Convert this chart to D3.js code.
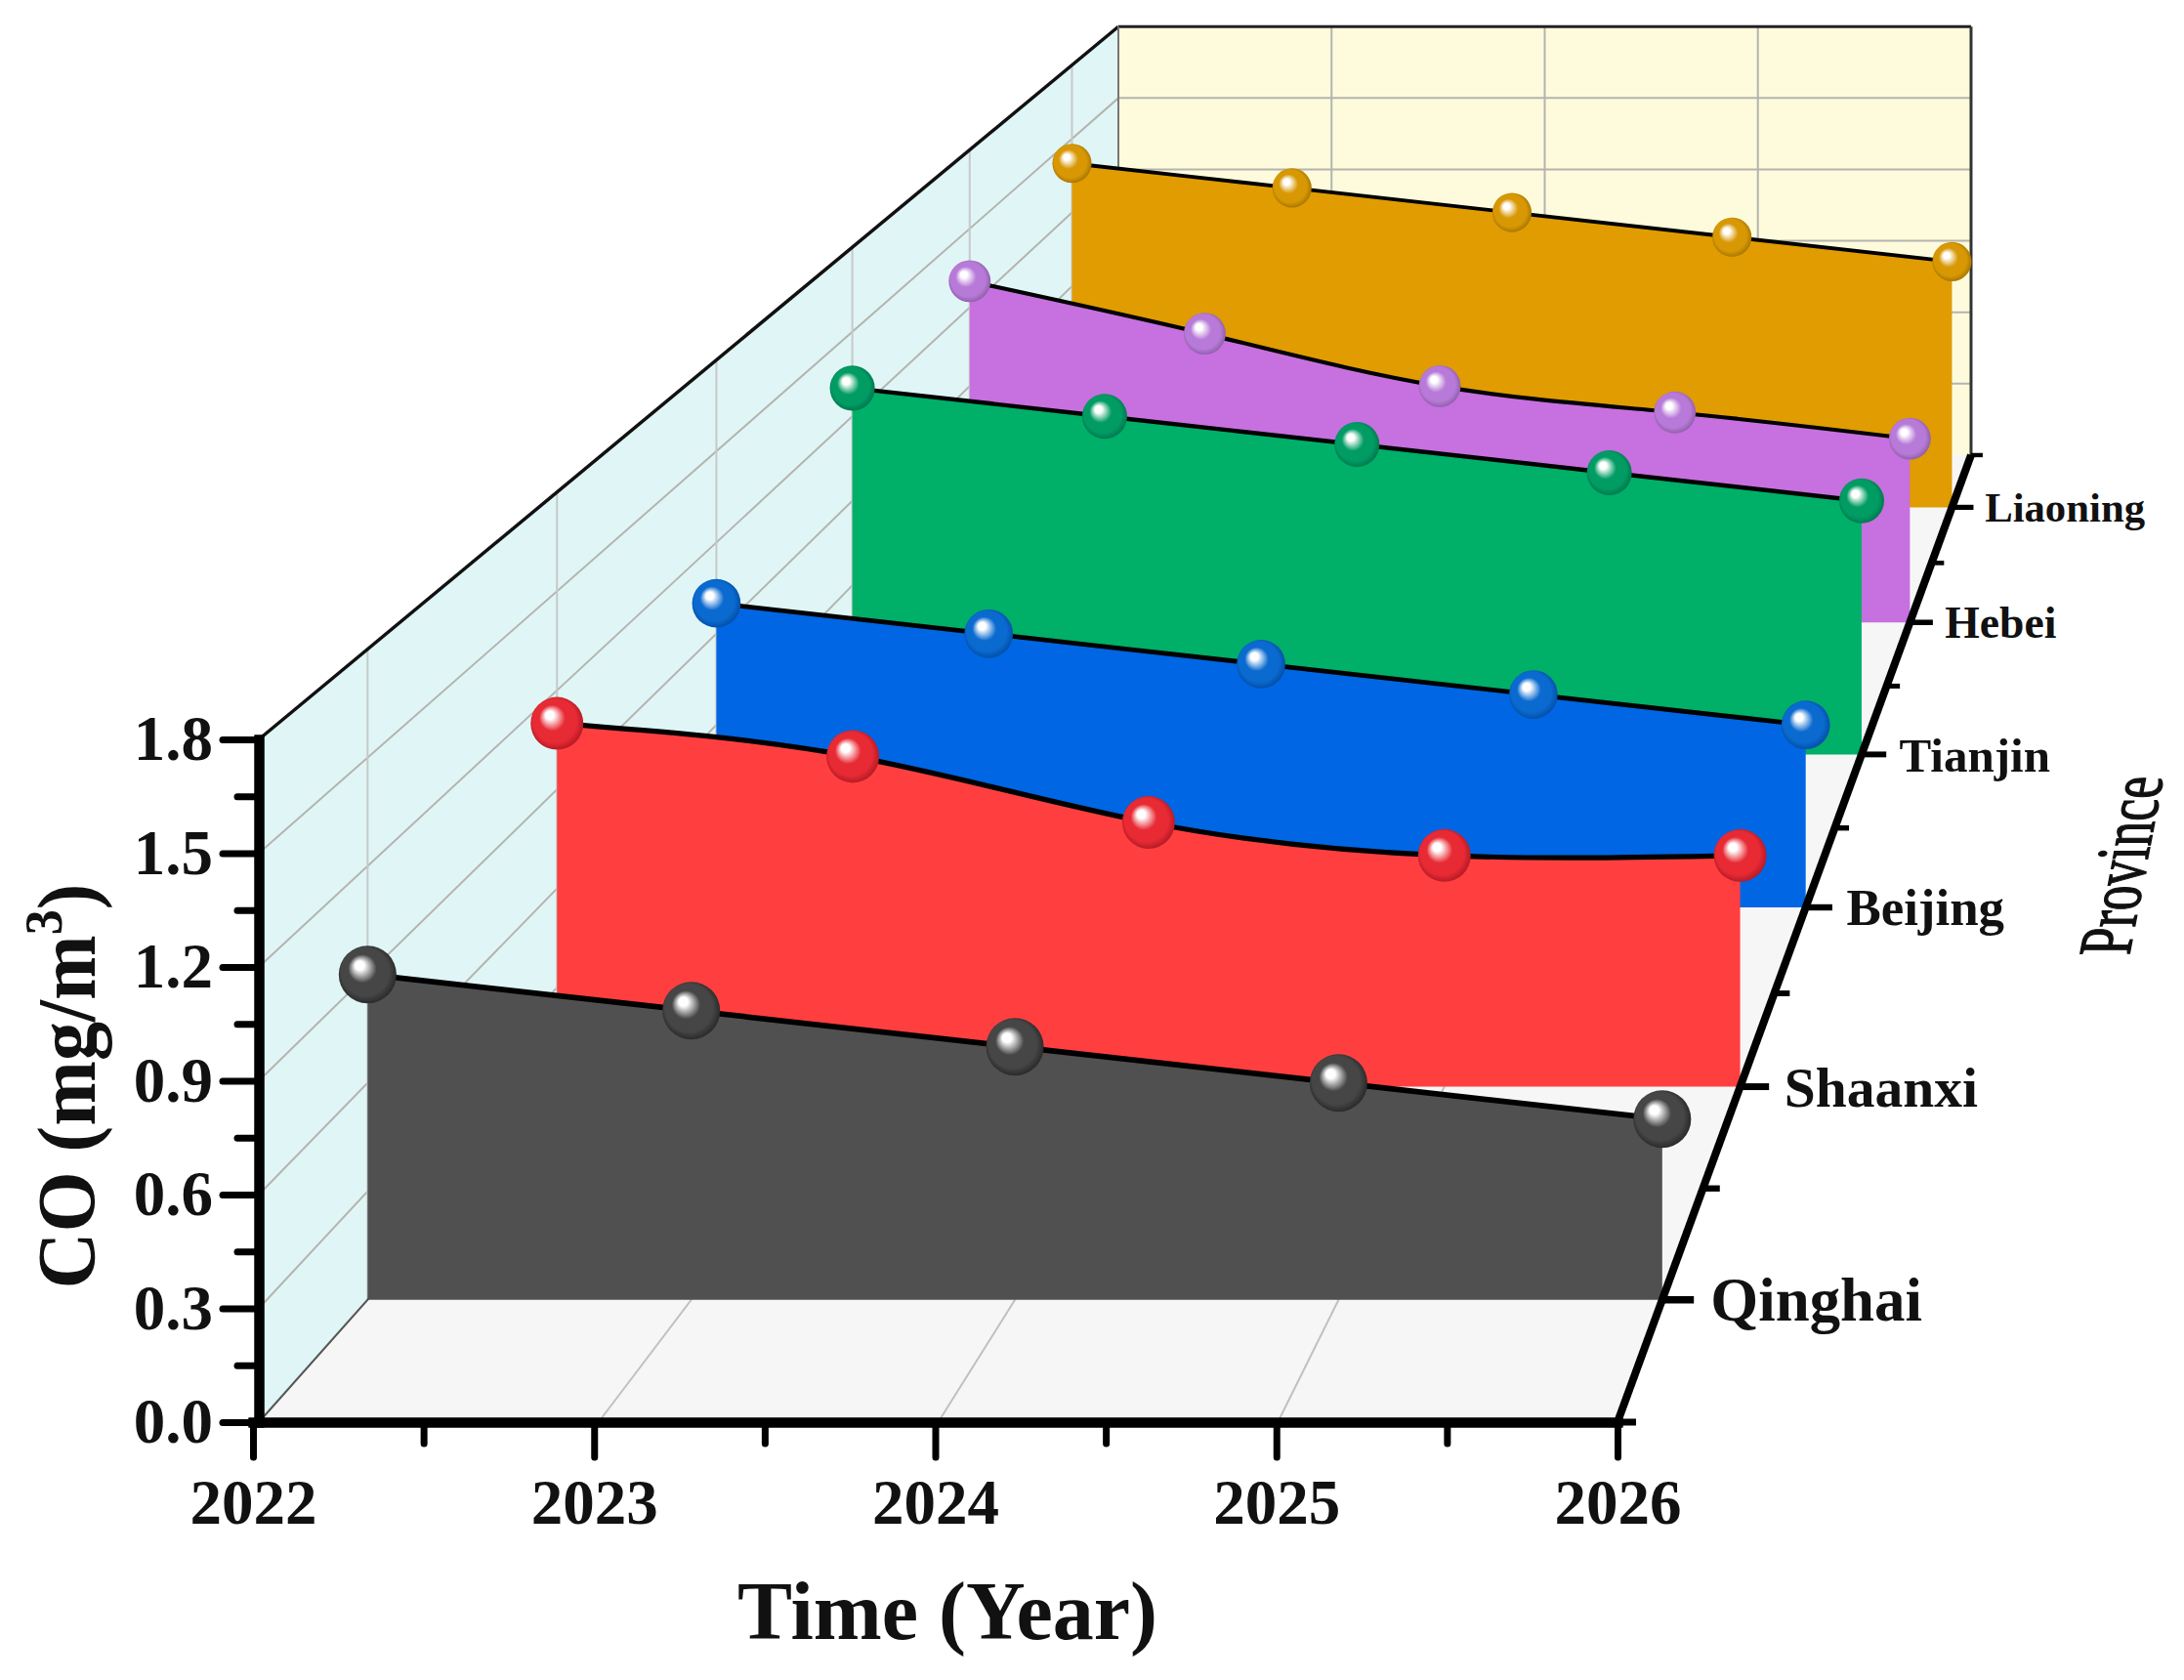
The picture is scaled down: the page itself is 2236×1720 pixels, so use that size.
<!DOCTYPE html>
<meta charset="utf-8">
<style>
body { margin: 0; background: #fff; }
text { font-family: "Liberation Serif", serif; font-weight: bold; fill: #111; }
</style>
<svg class="chart" width="2236" height="1720"></svg>
<script src="https://d3js.org/d3.v7.min.js"></script>
<script>

var years = [2022, 2023, 2024, 2025, 2026];
var provinces = ["Qinghai", "Shaanxi", "Beijing", "Tianjin", "Hebei", "Liaoning"];
var yTicks = [0, 0.3, 0.6, 0.9, 1.2, 1.5, 1.8];

var qinghai = [0.9, 0.8, 0.7, 0.6, 0.5];
var shaanxi = [1.1, 1.0, 0.8, 0.7, 0.7];
var beijing = [1.0, 0.9, 0.8, 0.7, 0.6];
var tianjin = [1.3, 1.2, 1.1, 1.0, 0.9];
var hebei = [1.3, 1.1, 0.9, 0.8, 0.7];
var liaoning = [1.4, 1.3, 1.2, 1.1, 1.0];

var seriesValues = [qinghai, shaanxi, beijing, tianjin, hebei, liaoning];
var fills = ["#505050", "#ff3f3f", "#0066e3", "#00af68", "#c770e0", "#e09c00"];
var ballBody = ["#464646", "#e82a34", "#0a6ad0", "#009c64", "#b87ad8", "#d89804"];
var ballDark = ["#1e1e1e", "#a01420", "#004494", "#006a44", "#805498", "#946800"];

var svg = d3.select(".chart");

var x = d3.scaleLinear().domain([2022, 2026]).range([265, 1656]);
var y = d3.scaleLinear().domain([0, 1.8]).range([1456, 757]);
var z = d3.scaleBand().domain(provinces).range([0, 1]);
// the printed x ticks start a little left of the wall
var xAxisScale = x.copy().range([259, 1656]);

// perspective: everything shrinks towards one vanishing point with depth
var vpx = 2628, vpy = -1202.5, persp = 0.5934;
function depth(d) { return 1 / (1 + persp * d); }
function project(xv, yv, d) {
  var s = depth(d);
  return [vpx + (x(xv) - vpx) * s, vpy + (y(yv) - vpy) * s];
}
function zMid(name) { return z(name) + z.bandwidth() / 2; }

function poly(pts, fill) {
  svg.append("polygon")
    .attr("points", pts.map(function(p) { return p.join(","); }).join(" "))
    .attr("fill", fill);
}
function seg(a, b, color, w) {
  svg.append("line")
    .attr("x1", a[0]).attr("y1", a[1])
    .attr("x2", b[0]).attr("y2", b[1])
    .attr("stroke", color)
    .attr("stroke-width", w);
}

// walls and floor
poly([project(2022, 0, 0), project(2022, 1.8, 0), project(2022, 1.8, 1), project(2022, 0, 1)], "#e0f6f6");
poly([project(2022, 0, 1), project(2022, 1.8, 1), project(2026, 1.8, 1), project(2026, 0, 1)], "#fdfbdc");
poly([project(2022, 0, 0), project(2022, 0, 1), project(2026, 0, 1), project(2026, 0, 0)], "#f6f6f6");

// grid
var gridColor = "#b4b4ae";
yTicks.slice(1, -1).forEach(function(v) {
  seg(project(2022, v, 0), project(2022, v, 1), gridColor, 2);
  seg(project(2022, v, 1), project(2026, v, 1), gridColor, 2);
});
provinces.forEach(function(p) {
  seg(project(2022, 0, zMid(p)), project(2022, 1.8, zMid(p)), "#c8c8c8", 2);
});
years.slice(1, -1).forEach(function(t) {
  seg(project(t, 0, 0), project(t, 0, 1), "#c0c0c0", 2);
  seg(project(t, 0, 1), project(t, 1.8, 1), gridColor, 2);
});

// wall edges
seg(project(2022, 1.8, 0), project(2022, 1.8, 1), "#111", 3.5);
seg(project(2022, 1.8, 1), project(2026, 1.8, 1), "#222", 3);
seg(project(2026, 1.8, 1), project(2026, 0, 1), "#333", 3);
seg(project(2022, 0, 0), project(2022, 0, 1), "#555", 2);
seg(project(2022, 0, 1), project(2022, 1.8, 1), "#777", 2);

// ball shading
var defs = svg.append("defs");
fills.forEach(function(f, i) {
  var g = defs.append("radialGradient")
    .attr("id", "ball" + i)
    .attr("cx", "0.5").attr("cy", "0.5").attr("r", "0.56")
    .attr("fx", "0.34").attr("fy", "0.32");
  g.append("stop").attr("offset", "0").attr("stop-color", "#ffffff");
  g.append("stop").attr("offset", "0.14").attr("stop-color", "#ffffff");
  g.append("stop").attr("offset", "0.44").attr("stop-color", ballBody[i]);
  g.append("stop").attr("offset", "0.74").attr("stop-color", ballBody[i]);
  g.append("stop").attr("offset", "1").attr("stop-color", ballDark[i]);
});

// ribbons, back to front
var ribbon = d3.area().x(function(d) { return d[0]; }).y0(function(d) { return d[2]; }).y1(function(d) { return d[1]; }).curve(d3.curveNatural);
var ridge = d3.line().x(function(d) { return d[0]; }).y(function(d) { return d[1]; }).curve(d3.curveNatural);

d3.range(provinces.length - 1, -1, -1).forEach(function(i) {
  var dz = zMid(provinces[i]);
  var s = depth(dz);
  var pts = seriesValues[i].map(function(v, j) {
    var p = project(years[j], v, dz);
    return [p[0], p[1], project(years[j], 0, dz)[1]];
  });
  svg.append("path").attr("d", ribbon(pts)).attr("fill", fills[i]);
  svg.append("path").attr("d", ridge(pts))
    .attr("fill", "none")
    .attr("stroke", "#000")
    .attr("stroke-width", 6 * s);
  svg.selectAll(".ball" + i)
    .data(pts)
    .enter().append("circle")
    .attr("class", "ball" + i)
    .attr("cx", function(d) { return d[0]; })
    .attr("cy", function(d) { return d[1]; })
    .attr("r", 31 * s)
    .attr("fill", "url(#ball" + i + ")");
});

// front axes
function styleAxis(g) {
  g.select(".domain").attr("stroke", "#000").attr("stroke-width", 10).attr("stroke-linecap", "square");
  g.selectAll(".tick line").attr("stroke", "#000").attr("stroke-width", 7).attr("stroke-linecap", "round");
  g.selectAll(".tick text").attr("fill", "#111").style("font-size", "65px").style("font-family", "Liberation Serif").style("font-weight", "bold");
}

var yMinor = d3.range(0, 6).map(function(i) { return 0.15 + i * 0.3; });
svg.append("g")
  .attr("transform", "translate(265,0)")
  .call(d3.axisLeft(y).tickValues(yMinor).tickSize(22).tickSizeOuter(0).tickFormat(""))
  .call(styleAxis);
svg.append("g")
  .attr("transform", "translate(265,0)")
  .call(d3.axisLeft(y).tickValues(yTicks).tickSize(37).tickSizeOuter(0).tickPadding(10).tickFormat(d3.format(".1f")))
  .call(styleAxis);

var xMinor = [2022.5, 2023.5, 2024.5, 2025.5];
svg.append("g")
  .attr("transform", "translate(0,1456)")
  .call(d3.axisBottom(xAxisScale).tickValues(xMinor).tickSize(22).tickSizeOuter(0).tickFormat(""))
  .call(styleAxis);
svg.append("g")
  .attr("transform", "translate(0,1456)")
  .call(d3.axisBottom(xAxisScale).tickValues(years).tickSize(36).tickSizeOuter(0).tickPadding(22).tickFormat(d3.format("d")))
  .call(styleAxis);

// depth axis along the right edge of the floor
seg(project(2026, 0, 0), project(2026, 0, 1), "#000", 8);
d3.range(0, 7).forEach(function(i) {
  var p = project(2026, 0, i / 6);
  seg(p, [p[0] + 19 * depth(i / 6), p[1]], "#000", 7 * depth(i / 6));
});
provinces.forEach(function(name) {
  var dz = zMid(name);
  var s = depth(dz);
  var p = project(2026, 0, dz);
  seg(p, [p[0] + 34 * s, p[1]], "#000", 8 * s);
  svg.append("text")
    .attr("x", p[0] + 52 * s)
    .attr("y", p[1] + 1)
    .attr("dy", "0.33em")
    .style("font-size", (66 * s) + "px")
    .text(name);
});

// titles
svg.append("text")
  .attr("x", 970)
  .attr("y", 1678)
  .attr("text-anchor", "middle")
  .style("font-size", "84px")
  .text("Time (Year)");

var yTitle = svg.append("text")
  .attr("transform", "translate(97,1112) rotate(-90) scale(1,1.05)")
  .attr("text-anchor", "middle")
  .style("font-size", "80px");
yTitle.append("tspan").text("CO (mg/m");
yTitle.append("tspan").attr("dy", -32).style("font-size", "52px").text("3");
yTitle.append("tspan").attr("dy", 32).text(")");

// sheared along the depth axis, stems stay level
svg.append("text")
  .attr("transform", "matrix(0.191,-1,1.5,0,2180,978)")
  .style("font-size", "51.5px")
  .style("font-weight", "normal")
  .style("stroke", "#111")
  .style("stroke-width", 0.9)
  .text("Province");

</script>
